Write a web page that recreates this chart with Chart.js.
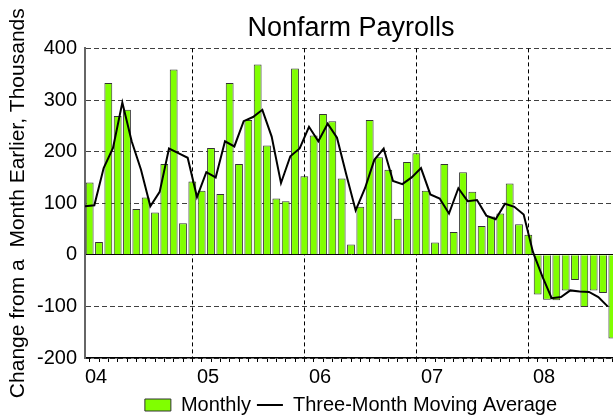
<!DOCTYPE html>
<html>
<head>
<meta charset="utf-8">
<title>Nonfarm Payrolls</title>
<script src="https://cdn.jsdelivr.net/npm/chart.js@4"></script>
<style>
  html, body { margin: 0; padding: 0; background: #fff; overflow: hidden; }
  #wrap { width: 613px; height: 417px; overflow: hidden; }
  canvas { display: block; }
</style>
</head>
<body>
<div id="wrap"><canvas id="payrollChart" width="620" height="425"></canvas></div>
<script>
// Jan 2004 .. Sep 2008, one value per month (thousands)
const yearLabels = ['04', '05', '06', '07', '08'];

const monthly = [
    140, 25, 333, 269, 281, 89, 111, 82, 176, 359, 61, 142,      // 2004
    124, 207, 118, 333, 176, 261, 369, 212, 109, 104, 361, 152,  // 2005
    231, 273, 259, 148, 20, 93, 261, 189, 165, 70, 180, 197,     // 2006
    124, 24, 176, 44, 160, 122, 56, 74, 80, 138, 59, 39,         // 2007
    -77, -87, -88, -69, -49, -101, -69, -74, -162                // 2008
];

const movingAvg = [
    94, 96, 168, 207, 295, 220, 165, 94, 122, 206, 197, 188,
    112, 160, 150, 220, 210, 259, 267, 281, 229, 139, 191, 206,
    248, 220, 254, 227, 155, 86, 129, 184, 206, 143, 137, 150,
    168, 117, 109, 80, 129, 104, 106, 76, 69, 99, 93, 78,
    5, -42, -84, -82, -69, -71, -72, -82, -100
];

const yMin = -200, yMax = 400, yStep = 100;

Chart.defaults.font.family = '"Liberation Sans", Arial, sans-serif';
Chart.defaults.color = '#000';

const nMonths = monthly.length;
// bars fill each month cell, the average is plotted at the start of the month
const barPoints = monthly.map((v, i) => ({ x: i + 0.5, y: v }));
const linePoints = movingAvg.map((v, i) => ({ x: i, y: v }));

const ctx = document.getElementById('payrollChart').getContext('2d');
// canvas is a bit bigger than the window so the plot runs off the right edge like the original
new Chart(ctx, {
    type: 'bar',
    data: {
        datasets: [{
            label: 'Monthly',
            data: barPoints,
            backgroundColor: '#80ff00',
            borderColor: '#333',
            borderWidth: 1,
            barPercentage: 0.84,
            categoryPercentage: 1,
            pointStyle: 'rect',
            order: 1
        }, {
            type: 'line',
            label: 'Three-Month Moving Average',
            data: linePoints,
            borderColor: '#000',
            borderWidth: 2,
            pointRadius: 0,
            pointStyle: 'line',
            pointBorderColor: '#000',
            pointBorderWidth: 2,
            tension: 0,
            order: 0
        }]
    },
    options: {
        responsive: false,
        animation: false,
        events: [],
        layout: { padding: { left: 0, right: 3, top: 0, bottom: 0 } },
        plugins: {
            title: {
                display: true,
                fullSize: false, // centre over the plot area
                text: 'Nonfarm Payrolls',
                font: { size: 27, weight: 'normal' },
                padding: { top: 12, bottom: 4 }
            },
            legend: {
                position: 'bottom',
                fullSize: false,
                labels: {
                    font: { size: 20 },
                    usePointStyle: true,
                    pointStyleWidth: 26,
                    boxHeight: 12,
                    padding: 6,
                    sort: (a, b) => a.datasetIndex - b.datasetIndex
                }
            },
            tooltip: { enabled: false }
        },
        scales: {
            x: {
                type: 'linear',
                offset: false,
                min: 0,
                max: nMonths,
                afterFit: s => { s.height = 31; },
                ticks: {
                    stepSize: 1,
                    autoSkip: false,
                    maxRotation: 0,
                    align: 'start',
                    padding: 3,
                    font: { size: 20 },
                    callback: v => (v % 12 === 0 ? (yearLabels[v / 12] || '') : '')
                },
                grid: {
                    color: c => (c.tick && c.tick.value % 12 === 0 && c.tick.value > 0 && c.tick.value < nMonths) ? '#000' : 'rgba(0,0,0,0)',
                    tickColor: '#000',
                    tickLength: 4,
                    lineWidth: 1
                },
                border: { display: true, color: '#000', width: 1.5, dash: [4, 3] }
            },
            y: {
                min: yMin,
                max: yMax,
                afterFit: s => { s.width = 85; },
                ticks: { stepSize: yStep, padding: 8, font: { size: 20 } },
                title: {
                    display: true,
                    text: 'Change from a  Month Earlier, Thousands',
                    font: { size: 21 },
                    padding: { top: 6, bottom: 0 }
                },
                grid: {
                    color: c => (c.tick && c.tick.value === 0) ? '#000' : 'rgba(0,0,0,0.75)',
                    drawTicks: false,
                    lineWidth: 1
                },
                border: {
                    display: true, color: '#666', width: 2,
                    dash: c => (c.tick && c.tick.value === 0) ? [] : [5, 3]
                }
            }
        }
    }
});
</script>
</body>
</html>
